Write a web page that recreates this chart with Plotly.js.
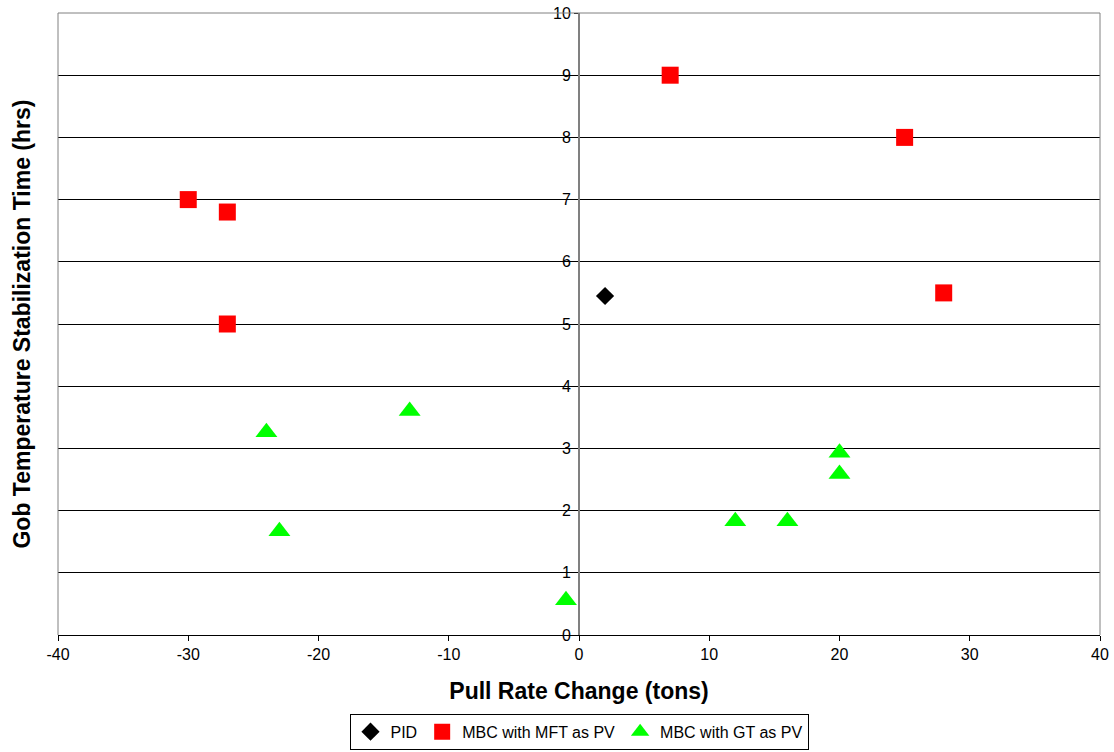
<!DOCTYPE html>
<html>
<head>
<meta charset="utf-8">
<script src="https://cdn.plot.ly/plotly-3.0.1.min.js"></script>
<style>html,body{margin:0;padding:0;background:#fff;}#chart{width:1114px;height:752px;}</style>
</head>
<body>
<div id="chart"></div>
<script>
const pidX = [2];
const pidY = [5.45];
const mftX = [-30, -27, -27, 7, 25, 28];
const mftY = [7, 6.8, 5, 9, 8, 5.5];
const gtX = [-24, -13, -23, -1, 12, 16, 20, 20];
const gtY = [3.26, 3.6, 1.67, 0.56, 1.83, 1.83, 2.93, 2.59];
const xTickVals = [-40, -30, -20, -10, 0, 10, 20, 30, 40];
const xTickText = ['-40', '-30', '-20', '-10', '0', '10', '20', '30', '40'];

const traces = [
  {x: pidX, y: pidY, mode: 'markers', type: 'scatter', name: 'PID',
   marker: {symbol: 'diamond', size: 14, color: '#000000'}},
  {x: mftX, y: mftY, mode: 'markers', type: 'scatter', name: 'MBC with MFT as PV',
   marker: {symbol: 'square', size: 17, color: '#ff0000'}},
  {x: gtX, y: gtY, mode: 'markers', type: 'scatter', name: 'MBC with GT as PV',
   marker: {symbol: 'triangle-up', size: 19, color: '#00ff00'}}
];

const layout = {
  width: 1114, height: 752,
  margin: {l: 58, r: 14, t: 13, b: 117, autoexpand: false},
  paper_bgcolor: '#fff', plot_bgcolor: '#fff',
  font: {family: 'Arial, Liberation Sans, sans-serif', size: 16, color: '#000'},
  showlegend: true,
  legend: {orientation: 'h', x: 0.5, xanchor: 'center', y: -0.1845, yanchor: 'bottom',
           bordercolor: '#000', borderwidth: 1, font: {size: 16},
           itemwidth: 30, tracegroupgap: 0},
  xaxis: {range: [-40, 40], tickvals: xTickVals, ticktext: xTickText, showgrid: false, zeroline: false,
          showline: true, linecolor: '#000', linewidth: 1,
          ticks: 'outside', ticklen: 5, tickcolor: '#000',
          tickfont: {size: 16}, automargin: false,
          title: {text: 'Pull Rate Change (tons)', font: {size: 23, weight: 'bold'}, standoff: 20}},
  yaxis: {range: [0, 10], dtick: 1, showgrid: true, gridcolor: '#000', gridwidth: 1,
          zeroline: false, anchor: 'free', position: 0.5,
          showline: true, linecolor: '#808080', linewidth: 2,
          ticks: 'outside', ticklen: 4, tickcolor: '#000',
          tickfont: {size: 16}, automargin: false},
  annotations: [
    {text: 'Gob Temperature Stabilization Time (hrs)', xref: 'paper', yref: 'paper',
     x: -0.035, y: 0.5, xanchor: 'center', yanchor: 'middle', textangle: -90, showarrow: false,
     font: {size: 23, weight: 'bold'}}
  ],
  shapes: [
    {type: 'line', xref: 'paper', yref: 'paper', x0: 0, x1: 0, y0: 0, y1: 1, line: {color: '#808080', width: 1}},
    {type: 'line', xref: 'paper', yref: 'paper', x0: 1, x1: 1, y0: 0, y1: 1, line: {color: '#808080', width: 1}},
    {type: 'line', xref: 'paper', yref: 'paper', x0: 0, x1: 1, y0: 1, y1: 1, line: {color: '#808080', width: 1}}
  ]
};

Plotly.newPlot('chart', traces, layout, {displayModeBar: false});
</script>
</body>
</html>
